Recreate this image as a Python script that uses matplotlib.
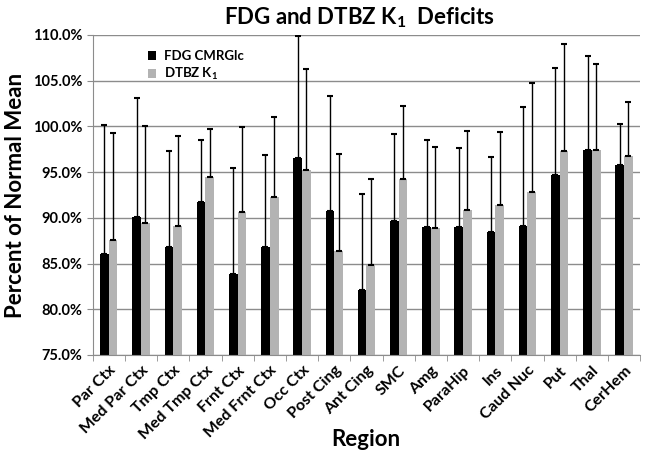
import numpy as np
import matplotlib.pyplot as plt
from matplotlib.ticker import FuncFormatter, MultipleLocator

plt.rcParams['font.family'] = ['Lato', 'DejaVu Sans']
plt.rcParams['mathtext.default'] = 'regular'

regions = ['Par Ctx', 'Med Par Ctx', 'Tmp Ctx', 'Med Tmp Ctx', 'Frnt Ctx',
           'Med Frnt Ctx', 'Occ Ctx', 'Post Cing', 'Ant Cing', 'SMC', 'Amg',
           'ParaHip', 'Ins', 'Caud Nuc', 'Put', 'Thal', 'CerHem']

# mean values (% of normal mean)
fdg = [86.0, 90.1, 86.8, 91.7, 83.9, 86.8, 96.5, 90.8, 82.1, 89.7, 89.0,
       89.0, 88.5, 89.1, 94.7, 97.4, 95.8]
dtbz = [87.6, 89.4, 89.1, 94.5, 90.6, 92.3, 95.2, 86.4, 84.8, 94.3, 88.9,
        90.9, 91.4, 92.8, 97.3, 97.4, 96.8]
# top of the error bars
fdg_top = [100.2, 103.1, 97.3, 98.5, 95.5, 96.9, 109.9, 103.3, 92.6, 99.2,
           98.5, 97.6, 96.7, 102.1, 106.4, 107.7, 100.3]
dtbz_top = [99.3, 100.1, 98.9, 99.7, 99.9, 101.0, 106.3, 97.0, 94.3, 102.2,
            97.8, 99.5, 99.4, 104.7, 109.0, 106.8, 102.7]

fdg_err = np.array(fdg_top) - np.array(fdg)
dtbz_err = np.array(dtbz_top) - np.array(dtbz)

fig = plt.figure(figsize=(6.46, 4.58), dpi=100)
ax = fig.add_axes([0.1435, 0.2249, 0.8475, 0.6987])

x = np.arange(len(regions))
w = 0.27
zeros = np.zeros(len(regions))
ax.bar(x - w / 2, fdg, w, color='black', label='FDG CMRGlc', zorder=2,
       yerr=[zeros, fdg_err], error_kw=dict(elinewidth=1, capsize=2.2, capthick=1.5, ecolor='black'))
ax.bar(x + w / 2, dtbz, w, color='#b3b3b3', label='DTBZ K$_1$', zorder=2,
       yerr=[zeros, dtbz_err], error_kw=dict(elinewidth=1, capsize=2.2, capthick=1.5, ecolor='black'))

ax.set_ylim(75, 110)
ax.set_xlim(-0.5, len(regions) - 0.5)
ax.yaxis.set_major_locator(MultipleLocator(5))
ax.yaxis.set_major_formatter(FuncFormatter(lambda v, p: f'{v:.1f}%'))
ax.grid(axis='y', color='#8c8c8c', linewidth=1, zorder=0)
ax.set_axisbelow(True)

for s in ['top', 'right']:
    ax.spines[s].set_visible(False)
for s in ['left', 'bottom']:
    ax.spines[s].set_color('#8c8c8c')

ax.set_xticks(x)
ax.set_xticklabels(regions, rotation=45, ha='right', rotation_mode='anchor',
                   fontsize=11.5, fontweight='bold')
ax.tick_params(axis='x', which='major', length=0, pad=6)
ax.set_xticks(np.arange(len(regions) + 1) - 0.5, minor=True)
ax.tick_params(axis='x', which='minor', length=4, color='#8c8c8c')
ax.tick_params(axis='y', length=4, color='#8c8c8c', labelsize=10.5)
for lbl in ax.get_yticklabels():
    lbl.set_fontweight('bold')

ax.set_ylabel('Percent of Normal Mean', fontsize=16, fontweight='bold', labelpad=5)
# x-axis title placed at a fixed spot below the rotated labels
fig.text(0.567, 0.04, 'Region', fontsize=16, fontweight='bold', ha='center', va='center')
fig.text(0.557, 0.962, 'FDG and DTBZ K$_1$  Deficits', fontsize=16, fontweight='bold',
         ha='center', va='center')

leg = ax.legend(loc='upper left', bbox_to_anchor=(0.08, 0.99), frameon=False,
                prop={'weight': 'bold', 'size': 9.5}, handlelength=0.6,
                handleheight=0.6, handletextpad=0.6, labelspacing=0.3)

fig.savefig('out.png', dpi=100)
